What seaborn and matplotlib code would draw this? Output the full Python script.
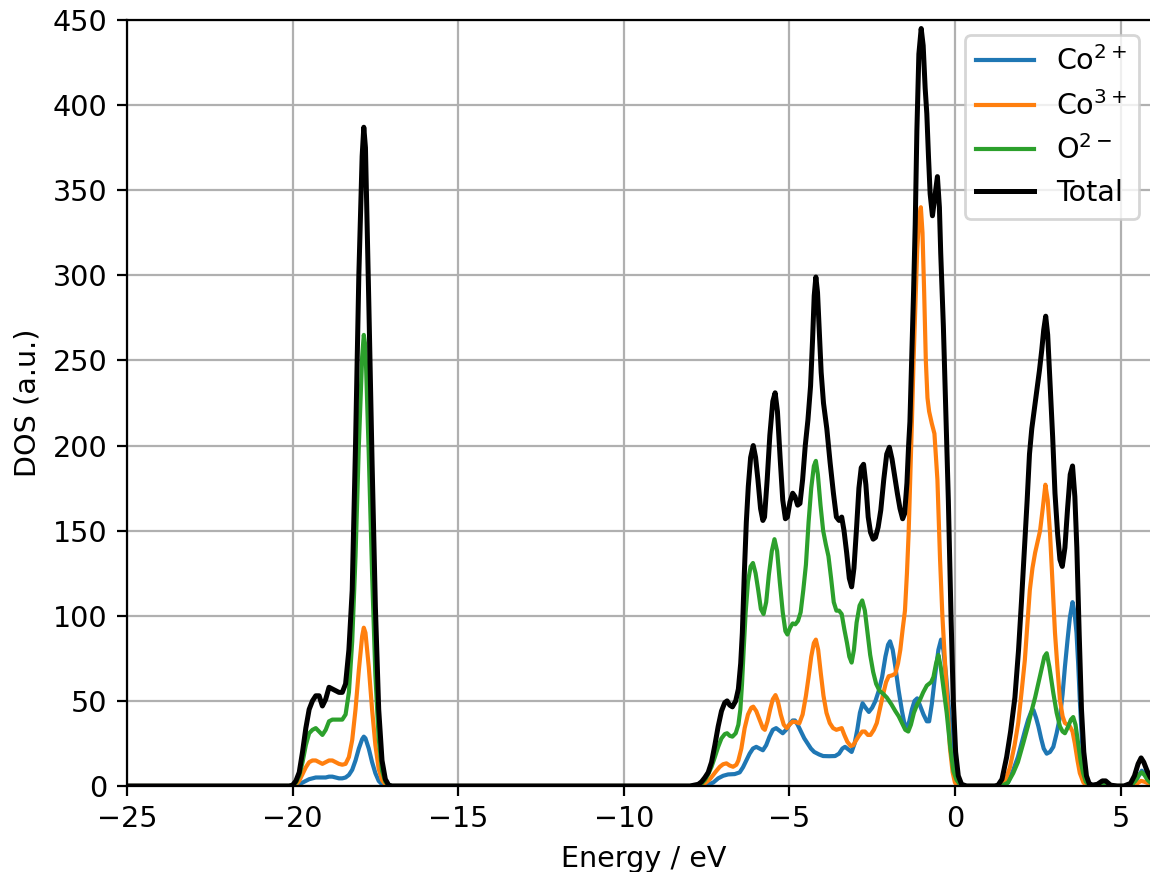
import matplotlib
matplotlib.use("Agg")
import matplotlib.pyplot as plt
import seaborn as sns
import pandas as pd

# ---- data: (energy eV, DOS a.u.) ----
co2_points = [
    (-25.0, 0), (-20.0, 0), (-19.9, 0.3), (-19.8, 1), (-19.7, 2), (-19.6, 3), (-19.5, 4), (-19.4, 4.5),
    (-19.3, 5), (-19.2, 5), (-19.1, 5), (-19.0, 5), (-18.9, 5.5), (-18.8, 5.5), (-18.7, 5), (-18.6, 4.5),
    (-18.5, 4.5), (-18.4, 5), (-18.3, 6.5), (-18.2, 9.5), (-18.1, 15), (-18.0, 22), (-17.9, 27.5),
    (-17.85, 29), (-17.8, 28), (-17.7, 22), (-17.6, 14), (-17.5, 7.5), (-17.4, 3), (-17.3, 1), (-17.2, 0.3),
    (-17.1, 0),
    (-7.8, 0), (-7.5, 0.6), (-7.3, 2), (-7.15, 4.5), (-7.0, 6), (-6.85, 6.8), (-6.65, 7), (-6.5, 8),
    (-6.4, 11), (-6.3, 15), (-6.2, 19), (-6.1, 22), (-6.0, 23), (-5.9, 22), (-5.8, 21), (-5.7, 24),
    (-5.6, 29), (-5.5, 33), (-5.4, 34), (-5.3, 32.5), (-5.2, 31), (-5.1, 33), (-5.0, 36), (-4.9, 38.5),
    (-4.83, 38.5), (-4.75, 36), (-4.65, 32), (-4.55, 28), (-4.45, 25), (-4.35, 22), (-4.25, 20),
    (-4.1, 18.5), (-3.98, 17.6), (-3.8, 17.5), (-3.62, 17.6), (-3.5, 19), (-3.4, 22), (-3.32, 23),
    (-3.22, 21.5), (-3.12, 20), (-3.03, 25), (-2.95, 33), (-2.87, 43), (-2.79, 48.6), (-2.7, 46),
    (-2.6, 43.5), (-2.5, 46), (-2.4, 50), (-2.3, 56), (-2.2, 64), (-2.1, 76), (-2.02, 83), (-1.96, 85),
    (-1.88, 80), (-1.8, 70), (-1.7, 56), (-1.6, 44), (-1.52, 36), (-1.46, 34), (-1.38, 38), (-1.3, 45),
    (-1.22, 50), (-1.14, 51.5), (-1.05, 47), (-0.95, 42), (-0.85, 38), (-0.78, 38), (-0.7, 48),
    (-0.6, 65), (-0.5, 80), (-0.42, 86), (-0.35, 80), (-0.27, 65), (-0.18, 45), (-0.08, 25), (0.0, 10),
    (0.1, 3), (0.2, 0.5), (0.3, 0),
    (1.4, 0), (1.6, 2), (1.76, 9.4), (1.9, 17), (2.01, 25), (2.12, 33), (2.21, 39), (2.3, 43.5),
    (2.37, 44.6), (2.45, 40), (2.52, 35), (2.6, 28), (2.68, 22), (2.77, 19), (2.87, 20), (2.97, 23),
    (3.07, 31), (3.17, 40.5), (3.25, 54), (3.32, 70), (3.4, 86), (3.47, 99), (3.55, 108), (3.61, 102),
    (3.67, 90), (3.72, 72), (3.77, 50.5), (3.82, 32), (3.87, 15), (3.95, 5), (4.05, 1), (4.2, 0),
    (4.4, 0), (4.5, 0.5), (4.65, 0), (5.3, 0), (5.45, 2.5), (5.55, 6), (5.64, 9), (5.72, 7.5),
    (5.82, 4), (5.9, 2), (6.0, 1),
]

co3_points = [
    (-25.0, 0), (-20.0, 0), (-19.9, 1), (-19.8, 3), (-19.7, 7), (-19.6, 11), (-19.5, 14), (-19.4, 15),
    (-19.3, 15), (-19.2, 14), (-19.1, 13), (-19.0, 14), (-18.9, 15), (-18.8, 15), (-18.7, 14),
    (-18.6, 13), (-18.5, 12.5), (-18.4, 13), (-18.3, 17), (-18.2, 27), (-18.1, 45), (-18.0, 68),
    (-17.9, 88), (-17.85, 93), (-17.8, 90), (-17.7, 70), (-17.6, 45), (-17.5, 24), (-17.4, 10),
    (-17.3, 3.5), (-17.2, 1), (-17.1, 0),
    (-7.8, 0), (-7.55, 1.6), (-7.4, 4), (-7.3, 6.5), (-7.2, 9), (-7.1, 11.3), (-7.0, 12.8), (-6.9, 13.3),
    (-6.8, 12), (-6.7, 11.3), (-6.6, 12.5), (-6.54, 15), (-6.45, 22), (-6.35, 34), (-6.25, 42),
    (-6.15, 46), (-6.09, 46.6), (-6.0, 44), (-5.9, 39), (-5.8, 34), (-5.74, 33), (-5.66, 38),
    (-5.58, 45), (-5.5, 51), (-5.42, 53.4), (-5.35, 50), (-5.26, 42), (-5.17, 36), (-5.08, 34),
    (-5.0, 36), (-4.9, 37.8), (-4.8, 37.5), (-4.7, 36.8), (-4.6, 42), (-4.5, 53), (-4.42, 64),
    (-4.34, 76), (-4.26, 84), (-4.2, 86), (-4.13, 80), (-4.05, 66), (-3.97, 53), (-3.88, 43),
    (-3.78, 37), (-3.68, 34), (-3.58, 33), (-3.5, 33.5), (-3.42, 34), (-3.34, 30), (-3.25, 26),
    (-3.15, 23.5), (-3.07, 24), (-2.98, 27), (-2.9, 29.5), (-2.8, 32), (-2.72, 32), (-2.63, 30),
    (-2.55, 30), (-2.45, 33), (-2.36, 37), (-2.27, 45), (-2.18, 53), (-2.08, 61), (-2.0, 64.5),
    (-1.9, 65), (-1.8, 66), (-1.72, 72), (-1.65, 80), (-1.58, 92), (-1.51, 103), (-1.45, 125),
    (-1.4, 148), (-1.35, 180), (-1.3, 214), (-1.25, 250), (-1.2, 280), (-1.14, 315), (-1.08, 335),
    (-1.03, 340), (-0.98, 325), (-0.93, 290), (-0.88, 250), (-0.83, 228), (-0.78, 220), (-0.7, 213),
    (-0.62, 207), (-0.53, 180), (-0.45, 133), (-0.38, 100), (-0.3, 72), (-0.22, 45), (-0.15, 22),
    (-0.07, 8), (0.0, 2), (0.1, 0),
    (1.3, 0), (1.5, 2), (1.66, 11), (1.8, 24), (1.91, 37), (2.01, 55), (2.11, 74), (2.19, 96),
    (2.26, 115), (2.34, 128), (2.42, 137), (2.5, 144), (2.57, 150), (2.65, 163), (2.73, 177),
    (2.8, 168), (2.87, 148.6), (2.95, 118), (3.02, 90), (3.1, 68), (3.17, 50.5), (3.25, 41),
    (3.32, 37), (3.4, 36), (3.47, 35), (3.55, 32), (3.62, 25), (3.7, 15), (3.77, 7.6), (3.88, 2),
    (4.0, 0), (5.3, 0), (5.5, 1.5), (5.62, 3), (5.72, 2.5), (5.9, 1), (6.0, 0.5),
]

o2_points = [
    (-25.0, 0), (-20.1, 0), (-20.0, 0.5), (-19.9, 2), (-19.8, 6), (-19.7, 14), (-19.6, 24), (-19.5, 31),
    (-19.4, 33), (-19.3, 34), (-19.2, 32), (-19.1, 30), (-19.0, 33), (-18.9, 38), (-18.8, 39),
    (-18.7, 39), (-18.6, 39), (-18.5, 39), (-18.4, 42), (-18.3, 55), (-18.2, 85), (-18.1, 135),
    (-18.0, 200), (-17.9, 252), (-17.85, 265), (-17.8, 258), (-17.7, 195), (-17.6, 125), (-17.5, 65),
    (-17.4, 28), (-17.3, 9), (-17.2, 2.5), (-17.1, 0.5), (-17.0, 0),
    (-8.0, 0), (-7.7, 0.5), (-7.55, 3.5), (-7.45, 7), (-7.35, 11.3), (-7.25, 17), (-7.15, 23),
    (-7.05, 28), (-6.95, 30.5), (-6.88, 31), (-6.8, 29.5), (-6.72, 29), (-6.62, 31), (-6.54, 36),
    (-6.48, 45), (-6.43, 60), (-6.38, 80), (-6.32, 102), (-6.25, 120), (-6.17, 129), (-6.1, 131),
    (-6.02, 125), (-5.94, 115), (-5.86, 104), (-5.78, 101), (-5.7, 108), (-5.62, 124), (-5.53, 138),
    (-5.45, 145), (-5.37, 138), (-5.29, 120), (-5.2, 102), (-5.12, 91), (-5.06, 89), (-4.98, 93),
    (-4.9, 95.5), (-4.82, 95), (-4.74, 97), (-4.66, 102), (-4.58, 115), (-4.5, 130), (-4.42, 155),
    (-4.34, 175), (-4.26, 188), (-4.2, 191), (-4.14, 183), (-4.06, 165), (-3.98, 150), (-3.9, 142),
    (-3.82, 135), (-3.74, 122), (-3.66, 108), (-3.58, 103), (-3.5, 103), (-3.42, 101), (-3.34, 92),
    (-3.26, 84), (-3.19, 76), (-3.12, 72.5), (-3.05, 80), (-2.97, 96), (-2.88, 106), (-2.8, 109),
    (-2.72, 103), (-2.64, 90), (-2.56, 77), (-2.47, 67), (-2.38, 60), (-2.28, 56), (-2.16, 54),
    (-2.06, 52), (-1.92, 48), (-1.8, 44), (-1.7, 41), (-1.6, 37), (-1.5, 33), (-1.41, 32), (-1.33, 36),
    (-1.24, 43), (-1.14, 48), (-1.06, 50.5), (-0.96, 55), (-0.85, 59), (-0.72, 61), (-0.65, 64),
    (-0.57, 72), (-0.5, 77), (-0.43, 70), (-0.35, 58), (-0.25, 43), (-0.15, 24), (-0.05, 9),
    (0.05, 3.5), (0.15, 1), (0.3, 0),
    (1.4, 0), (1.6, 2), (1.76, 7.6), (1.9, 14), (2.06, 25), (2.2, 35), (2.32, 44.6), (2.42, 52),
    (2.52, 60.5), (2.62, 69), (2.7, 76), (2.77, 78), (2.85, 70), (2.97, 54.6), (3.07, 43), (3.17, 35),
    (3.25, 32), (3.32, 31), (3.42, 35), (3.5, 39), (3.57, 40.5), (3.64, 36), (3.72, 25), (3.8, 14),
    (3.87, 7.6), (3.95, 2.5), (4.05, 0.5), (4.2, 0), (4.4, 0.5), (4.5, 1.5), (4.6, 0.8), (4.8, 0),
    (5.3, 0), (5.45, 3), (5.55, 6.5), (5.64, 8), (5.72, 6.5), (5.82, 3.5), (5.9, 2), (6.0, 1),
]

total_points = [
    (-25.0, 0), (-20.1, 0), (-20.0, 0.5), (-19.9, 3), (-19.8, 8), (-19.7, 20), (-19.6, 34), (-19.5, 45),
    (-19.4, 50), (-19.3, 53), (-19.2, 53), (-19.1, 47), (-19.0, 51), (-18.9, 58), (-18.8, 57),
    (-18.7, 56), (-18.6, 55), (-18.5, 55), (-18.4, 60), (-18.3, 80), (-18.2, 115), (-18.1, 200),
    (-18.0, 300), (-17.9, 370), (-17.85, 387), (-17.8, 375), (-17.7, 285), (-17.6, 190), (-17.5, 105),
    (-17.4, 45), (-17.3, 15), (-17.2, 4), (-17.1, 0.5), (-17.0, 0),
    (-8.0, 0), (-7.75, 1), (-7.65, 2.5), (-7.55, 5), (-7.45, 8), (-7.35, 14), (-7.25, 24), (-7.15, 35),
    (-7.05, 44), (-6.95, 49), (-6.88, 50), (-6.8, 47.5), (-6.72, 46.5), (-6.62, 50), (-6.54, 57),
    (-6.47, 72), (-6.42, 90), (-6.36, 125), (-6.3, 155), (-6.24, 176), (-6.17, 193), (-6.09, 200),
    (-6.02, 193), (-5.95, 180), (-5.87, 163), (-5.8, 156), (-5.75, 158), (-5.67, 180), (-5.59, 206),
    (-5.5, 226), (-5.43, 231), (-5.36, 220), (-5.28, 193), (-5.2, 168), (-5.12, 157), (-5.06, 158),
    (-4.98, 167), (-4.9, 172), (-4.83, 170), (-4.75, 165), (-4.68, 166), (-4.6, 180), (-4.52, 200),
    (-4.44, 215), (-4.36, 235), (-4.3, 262), (-4.25, 288), (-4.2, 299), (-4.15, 290), (-4.1, 268),
    (-4.04, 243), (-3.97, 225), (-3.87, 210), (-3.77, 190), (-3.67, 172), (-3.58, 158), (-3.5, 156),
    (-3.42, 158), (-3.35, 150), (-3.27, 137), (-3.19, 122), (-3.12, 117), (-3.05, 128), (-2.97, 152),
    (-2.9, 175), (-2.83, 187), (-2.76, 189), (-2.69, 177), (-2.62, 158), (-2.55, 149), (-2.47, 145),
    (-2.4, 146), (-2.32, 152), (-2.24, 162), (-2.15, 180), (-2.06, 195), (-1.98, 199), (-1.9, 192),
    (-1.82, 182), (-1.74, 172), (-1.66, 163), (-1.58, 157), (-1.52, 160), (-1.45, 178), (-1.4, 200),
    (-1.36, 214), (-1.3, 255), (-1.25, 290), (-1.2, 330), (-1.15, 385), (-1.09, 430), (-1.02, 445),
    (-0.96, 435), (-0.9, 410), (-0.85, 395), (-0.8, 370), (-0.75, 348), (-0.68, 335), (-0.6, 347),
    (-0.53, 358), (-0.47, 340), (-0.43, 313), (-0.35, 270), (-0.27, 215), (-0.2, 168), (-0.12, 100),
    (-0.05, 50), (0.02, 20), (0.1, 6), (0.2, 1), (0.35, 0),
    (1.2, 0), (1.3, 0.5), (1.42, 4), (1.56, 17), (1.68, 32), (1.81, 52), (1.92, 80), (2.01, 109),
    (2.1, 140), (2.18, 168), (2.25, 195), (2.32, 210), (2.4, 222), (2.47, 232), (2.55, 244),
    (2.62, 256), (2.68, 268), (2.74, 276), (2.8, 265), (2.87, 237), (2.95, 205), (3.02, 172),
    (3.1, 148), (3.17, 133), (3.24, 129), (3.32, 140), (3.4, 163), (3.48, 183), (3.55, 188),
    (3.62, 170), (3.68, 140), (3.75, 90), (3.82, 45), (3.89, 20), (3.97, 6), (4.05, 1.5), (4.15, 0.5),
    (4.3, 1), (4.45, 3), (4.55, 3), (4.7, 0.5), (4.9, 0), (5.1, 0), (5.3, 1.5), (5.42, 6), (5.53, 13),
    (5.62, 16.5), (5.7, 14), (5.8, 9), (5.9, 5), (6.0, 3),
]

labels = [r"Co$^{2+}$", r"Co$^{3+}$", r"O$^{2-}$", "Total"]
colors = ["#1f77b4", "#ff7f0e", "#2ca02c", "black"]
widths = [1.5, 1.5, 1.5, 1.8]
x_ticks = [-25, -20, -15, -10, -5, 0, 5]
y_ticks = [0, 50, 100, 150, 200, 250, 300, 350, 400, 450]

W, H, DPI = 1150, 872, 200
plt.rcParams["font.size"] = 10.3
fig = plt.figure(figsize=(W / DPI, H / DPI), dpi=DPI)
ax = fig.add_axes([127 / W, 86 / H, (1160.3 - 127) / W, 766 / H])
ax.grid(True, color="#b0b0b0", linewidth=0.8)
ax.set_axisbelow(True)

for pts, lab, col, lw in zip([co2_points, co3_points, o2_points, total_points], labels, colors, widths):
    df = pd.DataFrame(pts, columns=["energy", "dos"])
    sns.lineplot(data=df, x="energy", y="dos", color=col, linewidth=lw, label=lab,
                 estimator=None, sort=False, ax=ax)

ax.set_xlim(-25, 6.2)
ax.set_ylim(0, 450)
ax.set_xticks(x_ticks)
ax.set_yticks(y_ticks)
ax.set_xlabel("Energy / eV")
ax.set_ylabel("DOS (a.u.)")
pad_px = 0.5 * plt.rcParams["font.size"] * DPI / 72
ax.legend(loc="upper right", bbox_to_anchor=((1139 + pad_px) / W, (H - 35 + pad_px) / H),
          bbox_transform=fig.transFigure)

fig.savefig("out.png", dpi=DPI)
